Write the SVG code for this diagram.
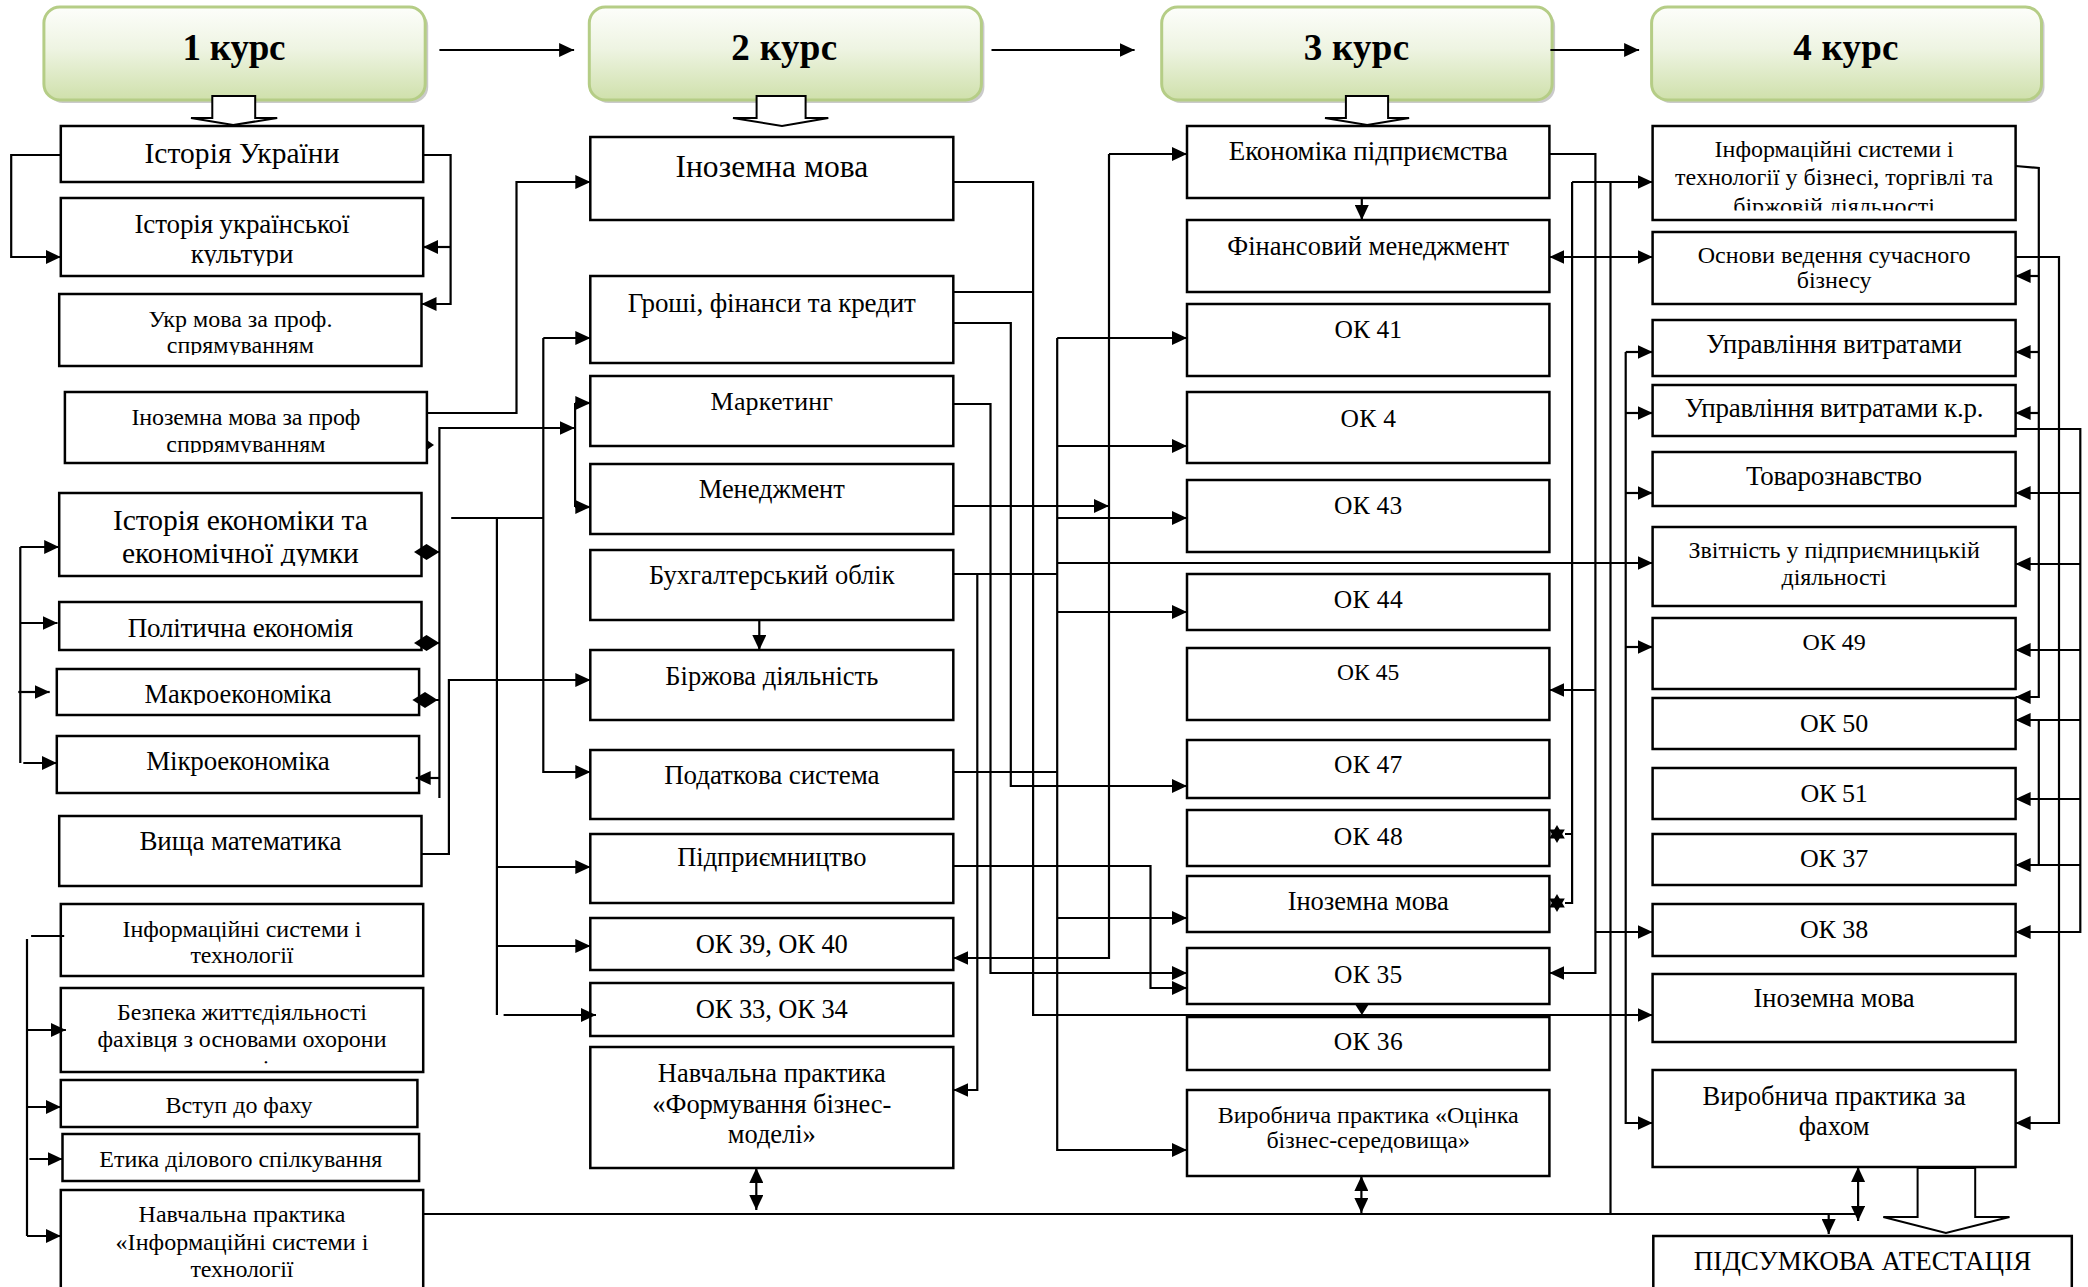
<svg xmlns="http://www.w3.org/2000/svg" width="2088" height="1287" viewBox="0 0 2088 1287">
<defs>
<style>
.box{fill:#fff;stroke:#000;stroke-width:2.5}
.t{font-family:"Liberation Serif","Times New Roman",serif;text-anchor:middle;fill:#000}
.h{font-family:"Liberation Serif","Times New Roman",serif;text-anchor:middle;font-weight:bold;font-size:37px;fill:#000}
.hd{fill:url(#g);stroke:#b5cd86;stroke-width:3}
.sh{fill:#8a8a8a;opacity:0.45}
.c{fill:none;stroke:#000;stroke-width:2.2}
.a{marker-end:url(#ar)}
.d{marker-end:url(#ar);marker-start:url(#ar)}
.blk{fill:#fff;stroke:#000;stroke-width:2}
</style>
<linearGradient id="g" x1="0" y1="0" x2="0" y2="1">
<stop offset="0" stop-color="#fdfefb"/>
<stop offset="0.45" stop-color="#eef4e2"/>
<stop offset="1" stop-color="#cfe0ab"/>
</linearGradient>
<marker id="ar" markerUnits="userSpaceOnUse" markerWidth="15" markerHeight="14" refX="15" refY="7" orient="auto-start-reverse">
<path d="M0,0 L15,7 L0,14 z" fill="#000"/>
</marker>
<clipPath id="k1"><rect x="0" y="0" width="2088" height="266"/></clipPath>
<clipPath id="k2"><rect x="0" y="0" width="2088" height="355"/></clipPath>
<clipPath id="k3"><rect x="0" y="0" width="2088" height="453"/></clipPath>
<clipPath id="k4"><rect x="0" y="0" width="2088" height="566"/></clipPath>
<clipPath id="k5"><rect x="0" y="0" width="2088" height="705"/></clipPath>
<clipPath id="k6"><rect x="0" y="0" width="2088" height="210.5"/></clipPath>
<clipPath id="k7"><rect x="0" y="0" width="2088" height="293"/></clipPath>
<clipPath id="k8"><rect x="0" y="0" width="2088" height="1064"/></clipPath>
</defs>
<rect width="2088" height="1287" fill="#fff"/>

<!-- headers -->
<g id="h1"><rect class="sh" x="46.9" y="10" width="381.3" height="93" rx="16"/><rect class="hd" x="43.9" y="7" width="381.3" height="93" rx="16"/><text class="h" x="234" y="60" textLength="103">1 курс</text></g>
<g id="h2"><rect class="sh" x="592.3" y="10" width="392.1" height="93" rx="16"/><rect class="hd" x="589.3" y="7" width="392.1" height="93" rx="16"/><text class="h" x="784.2" y="60" textLength="105.8">2 курс</text></g>
<g id="h3"><rect class="sh" x="1164.7" y="10" width="390.4" height="93" rx="16"/><rect class="hd" x="1161.7" y="7" width="390.4" height="93" rx="16"/><text class="h" x="1356.4" y="60" textLength="105.5">3 курс</text></g>
<g id="h4"><rect class="sh" x="1654.6" y="10" width="389.9" height="93" rx="16"/><rect class="hd" x="1651.6" y="7" width="389.9" height="93" rx="16"/><text class="h" x="1845.9" y="60" textLength="105.1">4 курс</text></g>

<!-- column 1 -->
<g id="n1-1"><rect class="box" x="60.8" y="126" width="362.4" height="56"/><text class="t" x="242" y="163" font-size="29.5" textLength="195">Історія України</text></g>
<g id="n1-2"><rect class="box" x="60.8" y="198" width="362.4" height="78"/><text class="t" x="242" y="233" font-size="27" textLength="215">Історія української</text><text class="t" x="242" y="263" font-size="27" clip-path="url(#k1)">культури</text></g>
<g id="n1-3"><rect class="box" x="59.2" y="294" width="362.3" height="72"/><text class="t" x="240.4" y="327" font-size="24" textLength="184">Укр мова за проф.</text><text class="t" x="240.4" y="353" font-size="24" clip-path="url(#k2)">спрямуванням</text></g>
<g id="n1-4"><rect class="box" x="64.9" y="392" width="362" height="71"/><text class="t" x="245.9" y="425" font-size="24" textLength="229">Іноземна мова за проф</text><text class="t" x="245.9" y="452" font-size="24" clip-path="url(#k3)">спррямуванням</text></g>
<g id="n1-5"><rect class="box" x="59.2" y="493" width="362.3" height="83"/><text class="t" x="240.4" y="530" font-size="29.5" textLength="255">Історія економіки та</text><text class="t" x="240.4" y="563" font-size="29.5" textLength="237" clip-path="url(#k4)">економічної думки</text></g>
<g id="n1-6"><rect class="box" x="59.2" y="602" width="362.3" height="48"/><text class="t" x="240.4" y="637" font-size="27" textLength="225.5">Політична економія</text></g>
<g id="n1-7"><rect class="box" x="56.8" y="669" width="362.3" height="46"/><text class="t" x="238" y="703" font-size="26.5" textLength="187" clip-path="url(#k5)">Макроекономіка</text></g>
<g id="n1-8"><rect class="box" x="56.8" y="736" width="362.3" height="57"/><text class="t" x="238" y="770" font-size="27" textLength="183.5">Мікроекономіка</text></g>
<g id="n1-9"><rect class="box" x="59.2" y="816" width="362.3" height="70"/><text class="t" x="240.4" y="850" font-size="27" textLength="202">Вища математика</text></g>
<g id="n1-10"><rect class="box" x="60.8" y="904" width="362.4" height="72"/><text class="t" x="242" y="937" font-size="24" textLength="239">Інформаційні системи і</text><text class="t" x="242" y="963" font-size="24" textLength="103">технології</text></g>
<g id="n1-11"><rect class="box" x="60.8" y="988" width="362.4" height="84"/><text class="t" x="242" y="1020" font-size="24" textLength="250">Безпека життєдіяльності</text><text class="t" x="242" y="1047" font-size="24" textLength="289">фахівця з основами охорони</text><text class="t" x="242" y="1076" font-size="24" clip-path="url(#k8)">праці</text></g>
<g id="n1-12"><rect class="box" x="60.8" y="1080" width="356.6" height="47"/><text class="t" x="239.1" y="1113" font-size="24" textLength="147">Вступ до фаху</text></g>
<g id="n1-13"><rect class="box" x="62.5" y="1134" width="356.6" height="47"/><text class="t" x="240.8" y="1167" font-size="24" textLength="283">Етика ділового спілкування</text></g>
<g id="n1-14"><rect class="box" x="60.8" y="1190" width="362.4" height="110"/><text class="t" x="242" y="1222" font-size="24" textLength="207">Навчальна практика</text><text class="t" x="242" y="1250" font-size="24" textLength="253">«Інформаційні системи і</text><text class="t" x="242" y="1277" font-size="24" textLength="103">технології</text></g>

<!-- column 2 -->
<g id="n2-1"><rect class="box" x="590.3" y="137" width="363" height="83"/><text class="t" x="771.8" y="177" font-size="31.5" textLength="192.7">Іноземна мова</text></g>
<g id="n2-2"><rect class="box" x="590.3" y="276" width="363" height="87"/><text class="t" x="771.8" y="312" font-size="27" textLength="288">Гроші, фінанси та кредит</text></g>
<g id="n2-3"><rect class="box" x="590.3" y="376" width="363" height="70"/><text class="t" x="771.8" y="410" font-size="26" textLength="122.4">Маркетинг</text></g>
<g id="n2-4"><rect class="box" x="590.3" y="464" width="363" height="70"/><text class="t" x="771.8" y="498" font-size="26.5" textLength="146">Менеджмент</text></g>
<g id="n2-5"><rect class="box" x="590.3" y="550" width="363" height="70"/><text class="t" x="771.8" y="584" font-size="26.5" textLength="245.7">Бухгалтерський облік</text></g>
<g id="n2-6"><rect class="box" x="590.3" y="650" width="363" height="70"/><text class="t" x="771.8" y="685" font-size="26.5" textLength="212.9">Біржова діяльність</text></g>
<g id="n2-7"><rect class="box" x="590.3" y="750" width="363" height="69"/><text class="t" x="771.8" y="784" font-size="27" textLength="215.3">Податкова система</text></g>
<g id="n2-8"><rect class="box" x="590.3" y="834" width="363" height="69"/><text class="t" x="771.8" y="866" font-size="26.5" textLength="189.3">Підприємництво</text></g>
<g id="n2-9"><rect class="box" x="590.3" y="918" width="363" height="52"/><text class="t" x="771.8" y="953" font-size="26.5" textLength="152">ОК 39, ОК 40</text></g>
<g id="n2-10"><rect class="box" x="590.3" y="983" width="363" height="53"/><text class="t" x="771.8" y="1018" font-size="26.5" textLength="152">ОК 33, ОК 34</text></g>
<g id="n2-11"><rect class="box" x="590.3" y="1047" width="363" height="121"/><text class="t" x="771.8" y="1082" font-size="26.5" textLength="228">Навчальна практика</text><text class="t" x="771.8" y="1113" font-size="26.5" textLength="239">«Формування бізнес-</text><text class="t" x="771.8" y="1143" font-size="26.5" textLength="88">моделі»</text></g>

<!-- column 3 -->
<g id="n3-1"><rect class="box" x="1187" y="126" width="362.4" height="72"/><text class="t" x="1368.2" y="160" font-size="27" textLength="279">Економіка підприємства</text></g>
<g id="n3-2"><rect class="box" x="1187" y="220" width="362.4" height="72"/><text class="t" x="1368.2" y="255" font-size="26.5" textLength="282">Фінансовий менеджмент</text></g>
<g id="n3-3"><rect class="box" x="1187" y="304" width="362.4" height="72"/><text class="t" x="1368.2" y="338" font-size="25.5" textLength="67.6">ОК 41</text></g>
<g id="n3-4"><rect class="box" x="1187" y="392" width="362.4" height="71"/><text class="t" x="1368.2" y="427" font-size="25.5" textLength="55.4">ОК 4</text></g>
<g id="n3-5"><rect class="box" x="1187" y="480" width="362.4" height="72"/><text class="t" x="1368.2" y="514" font-size="25.5" textLength="68.3">ОК 43</text></g>
<g id="n3-6"><rect class="box" x="1187" y="574" width="362.4" height="56"/><text class="t" x="1368.2" y="608" font-size="25.5" textLength="69">ОК 44</text></g>
<g id="n3-7"><rect class="box" x="1187" y="648" width="362.4" height="72"/><text class="t" x="1368.2" y="680" font-size="23.5" textLength="62.2">ОК 45</text></g>
<g id="n3-8"><rect class="box" x="1187" y="740" width="362.4" height="58"/><text class="t" x="1368.2" y="773" font-size="25.5" textLength="68.3">ОК 47</text></g>
<g id="n3-9"><rect class="box" x="1187" y="810" width="362.4" height="56"/><text class="t" x="1368.2" y="845" font-size="25.5" textLength="69">ОК 48</text></g>
<g id="n3-10"><rect class="box" x="1187" y="876" width="362.4" height="56"/><text class="t" x="1368.2" y="910" font-size="26.5" textLength="161">Іноземна мова</text></g>
<g id="n3-11"><rect class="box" x="1187" y="948" width="362.4" height="56"/><text class="t" x="1368.2" y="983" font-size="25.5" textLength="68.3">ОК 35</text></g>
<g id="n3-12"><rect class="box" x="1187" y="1017" width="362.4" height="53"/><text class="t" x="1368.2" y="1050" font-size="25.5" textLength="69">ОК 36</text></g>
<g id="n3-13"><rect class="box" x="1187" y="1090" width="362.4" height="86"/><text class="t" x="1368.2" y="1123" font-size="24" textLength="300.8">Виробнича практика «Оцінка</text><text class="t" x="1368.2" y="1148" font-size="24" textLength="203.5">бізнес-середовища»</text></g>

<!-- column 4 -->
<g id="n4-1"><rect class="box" x="1652.6" y="126" width="363" height="94"/><text class="t" x="1834.1" y="157" font-size="24" textLength="239">Інформаційні системи і</text><text class="t" x="1834.1" y="185" font-size="24" textLength="318">технології у бізнесі, торгівлі та</text><text class="t" x="1834.1" y="214" font-size="24" clip-path="url(#k6)">біржовій діяльності</text></g>
<g id="n4-2"><rect class="box" x="1652.6" y="232" width="363" height="72"/><text class="t" x="1834.1" y="263" font-size="24" textLength="272.8">Основи ведення сучасного</text><text class="t" x="1834.1" y="288" font-size="24" clip-path="url(#k7)">бізнесу</text></g>
<g id="n4-3"><rect class="box" x="1652.6" y="320" width="363" height="56"/><text class="t" x="1834.1" y="353" font-size="27" textLength="255.9">Управління витратами</text></g>
<g id="n4-4"><rect class="box" x="1652.6" y="385" width="363" height="51"/><text class="t" x="1834.1" y="417" font-size="27" textLength="298.7">Управління витратами к.р.</text></g>
<g id="n4-5"><rect class="box" x="1652.6" y="452" width="363" height="54"/><text class="t" x="1834.1" y="485" font-size="27" textLength="176">Товарознавство</text></g>
<g id="n4-6"><rect class="box" x="1652.6" y="527" width="363" height="79"/><text class="t" x="1834.1" y="558" font-size="24" textLength="291.3">Звітність у підприємницькій</text><text class="t" x="1834.1" y="585" font-size="24" textLength="105">діяльності</text></g>
<g id="n4-7"><rect class="box" x="1652.6" y="618" width="363" height="71"/><text class="t" x="1834.1" y="650" font-size="24" textLength="63.3">ОК 49</text></g>
<g id="n4-8"><rect class="box" x="1652.6" y="698" width="363" height="51"/><text class="t" x="1834.1" y="732" font-size="26" textLength="68.4">ОК 50</text></g>
<g id="n4-9"><rect class="box" x="1652.6" y="768" width="363" height="51"/><text class="t" x="1834.1" y="802" font-size="26" textLength="67.3">ОК 51</text></g>
<g id="n4-10"><rect class="box" x="1652.6" y="834" width="363" height="51"/><text class="t" x="1834.1" y="867" font-size="26" textLength="68.4">ОК 37</text></g>
<g id="n4-11"><rect class="box" x="1652.6" y="904" width="363" height="52"/><text class="t" x="1834.1" y="938" font-size="26" textLength="68.4">ОК 38</text></g>
<g id="n4-12"><rect class="box" x="1652.6" y="974" width="363" height="68"/><text class="t" x="1834.1" y="1007" font-size="26.5" textLength="161">Іноземна мова</text></g>
<g id="n4-13"><rect class="box" x="1652.6" y="1070" width="363" height="97"/><text class="t" x="1834.1" y="1105" font-size="26.5" textLength="263.3">Виробнича практика за</text><text class="t" x="1834.1" y="1135" font-size="26.5" textLength="70.7">фахом</text></g>
<g id="n4-14"><rect class="box" x="1653.3" y="1236" width="418.5" height="60"/><text class="t" x="1862.5" y="1270" font-size="27" textLength="337.4">ПІДСУМКОВА АТЕСТАЦІЯ</text></g>

<g id="connectors">
<!-- header flow -->
<path class="c a" d="M439.4,50 H574.1"/>
<path class="c a" d="M991.5,50 H1134.6"/>
<path class="c a" d="M1550.4,50 H1639.1"/>
<!-- block arrows -->
<polygon class="blk" points="212.3,96 255.2,96 255.2,118 277.2,118 233.2,125 191,118 212.3,118"/>
<polygon class="blk" points="756.6,96 805.6,96 805.6,118 828.3,118 782,126 733,118 756.6,118"/>
<polygon class="blk" points="1345.9,96 1388.1,96 1388.1,118 1409.1,118 1367.2,125 1325,118 1345.9,118"/>
<polygon class="blk" points="1917.6,1168 1975.2,1168 1975.2,1217 2009.5,1217 1945.9,1233 1883.3,1217 1917.6,1217"/>

<!-- column 1 -->
<path class="c a" d="M60.8,155 H11.2 V257 H60.8"/>
<path class="c a" d="M423.2,155 H450.6 V304 H421.5"/>
<path class="c a" d="M450.6,247 H423.2"/>
<path class="c a" d="M426.9,413 H516.5 V182 H590.3"/>
<polygon points="426.9,440 434,445 426.9,450" fill="#000"/>
<path class="c a" d="M439.4,798 V428 H574.7"/>
<path class="c" d="M439.4,552 H421.5 M439.4,643 H421.5 M439.4,700 H419.1"/>
<polygon points="414,552 426.5,544 439.4,552 426.5,560" fill="#000"/>
<polygon points="414,643 426.5,635 439.4,643 426.5,651" fill="#000"/>
<polygon points="412.4,700 425,692 437.7,700 425,708" fill="#000"/>
<path class="c a" d="M439.4,778 H415.7"/>
<path class="c" d="M575.1,403 V507"/>
<path class="c a" d="M575.1,403 H590.3"/>
<path class="c a" d="M575.1,507 H590.3"/>
<path class="c" d="M20.3,547 V763"/>
<path class="c a" d="M20.3,547 H59.2"/>
<path class="c a" d="M20.3,623 H57.5"/>
<path class="c a" d="M18.3,692 H49.7"/>
<path class="c a" d="M23.3,763 H56.8"/>
<path class="c a" d="M421.5,854 H448.9 V680 H590.3"/>
<path class="c" d="M451.2,518 H543.3"/>
<path class="c a" d="M543.3,338 V772 H590.3"/>
<path class="c a" d="M543.3,338 H590.3"/>
<path class="c" d="M496.9,518 V1015"/>
<path class="c a" d="M496.9,867 H590.3"/>
<path class="c a" d="M496.9,946 H590.3"/>
<path class="c a" d="M503.6,1015 H596"/>
<path class="c" d="M31.1,936 H64.2"/>
<path class="c" d="M27,939 V1236"/>
<path class="c a" d="M27,1030 H65.9"/>
<path class="c a" d="M27,1107 H60.8"/>
<path class="c a" d="M29.4,1159 H62.5"/>
<path class="c a" d="M27,1236 H60.8"/>

<!-- bottom line -->
<path class="c" d="M423.2,1214 H1856"/>
<path class="c d" d="M756.3,1168 V1210"/>
<path class="c d" d="M1361.4,1176 V1213"/>
<path class="c d" d="M1858.1,1167 V1221"/>
<path class="c a" d="M1828.7,1214 V1234"/>

<!-- column 2 to 3 -->
<path class="c a" d="M953.3,182 H1033.1 V1015 H1652.6"/>
<path class="c" d="M953.3,292 H1033.1"/>
<path class="c a" d="M953.3,323 H1010.8 V786 H1187"/>
<path class="c a" d="M953.3,404 H990.5 V973 H1187"/>
<path class="c a" d="M953.3,506 H1109"/>
<path class="c a" d="M1109,154 H1187"/>
<path class="c a" d="M1109,154 V958 H953.3"/>
<path class="c" d="M953.3,574 H1057.2"/>
<path class="c a" d="M977.3,574 V1090 H953.3"/>
<path class="c a" d="M1057.2,338 V1150 H1187"/>
<path class="c a" d="M1057.2,338 H1187"/>
<path class="c a" d="M1057.2,446 H1187"/>
<path class="c a" d="M1057.2,518 H1187"/>
<path class="c a" d="M1057.2,612 H1187"/>
<path class="c a" d="M1057.2,918 H1187"/>
<path class="c a" d="M1057.2,563 H1652.6"/>
<path class="c" d="M953.3,772 H1057.2"/>
<path class="c a" d="M953.3,866 H1150.5 V988 H1187"/>
<path class="c a" d="M1361.8,198 V220"/>
<path class="c a" d="M759.3,620 V650"/>
<polygon points="1354.3,1003 1369.6,1003 1361.9,1015" fill="#000"/>

<!-- column 3 to 4 -->
<path class="c a" d="M1549.4,154 H1595.4 V973 H1549.4"/>
<path class="c a" d="M1595.4,690 H1549.4"/>
<path class="c a" d="M1595.4,932 H1652.6"/>
<path class="c d" d="M1549.4,257 H1652.6"/>
<path class="c a" d="M1572.1,182 H1652.6"/>
<path class="c" d="M1572.1,182 V903 H1565 M1572.1,834 H1565"/>
<polygon points="1557,825 1564.8,838.5 1549.2,838.5" fill="#000"/>
<polygon points="1557,843 1564.8,829.5 1549.2,829.5" fill="#000"/>
<polygon points="1557,894 1564.8,907.5 1549.2,907.5" fill="#000"/>
<polygon points="1557,912 1564.8,898.5 1549.2,898.5" fill="#000"/>
<path class="c" d="M1610.5,182 V1214"/>
<path class="c a" d="M1625.7,352 V1123 H1652.6"/>
<path class="c a" d="M1625.7,352 H1652.6"/>
<path class="c a" d="M1625.7,413 H1652.6"/>
<path class="c a" d="M1625.7,493 H1652.6"/>
<path class="c a" d="M1625.7,647 H1652.6"/>

<!-- column 4 right side -->
<path class="c a" d="M2015.6,166 L2038.8,168 V697 H2015.6"/>
<path class="c a" d="M2038.8,276 H2015.6"/>
<path class="c a" d="M2038.8,352 H2015.6"/>
<path class="c a" d="M2038.8,413 H2015.6"/>
<path class="c a" d="M2015.6,257 H2059 V1123 H2015.6"/>
<path class="c a" d="M2015.6,429 H2080.3 V932 H2015.6"/>
<path class="c a" d="M2080.3,493 H2015.6"/>
<path class="c a" d="M2080.3,564 H2015.6"/>
<path class="c a" d="M2080.3,650 H2015.6"/>
<path class="c a" d="M2080.3,720 H2015.6"/>
<path class="c a" d="M2080.3,799 H2015.6"/>
<path class="c a" d="M2080.3,865 H2015.6"/>
<path class="c" d="M2038.8,720 V865"/>
</g>
</svg>
